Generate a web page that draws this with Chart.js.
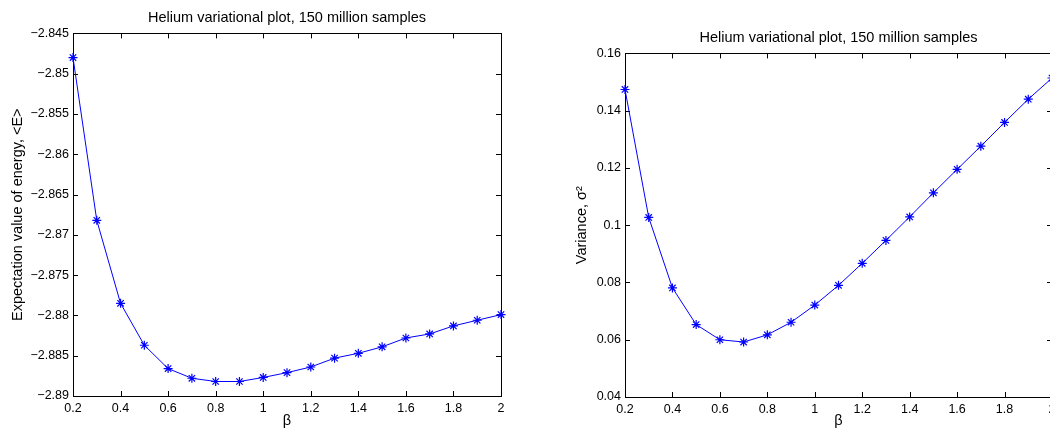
<!DOCTYPE html>
<html>
<head>
<meta charset="utf-8">
<title>Helium variational plot</title>
<script src="https://cdn.jsdelivr.net/npm/chart.js@4.4.1/dist/chart.umd.min.js"></script>
<style>
  html, body { margin: 0; padding: 0; background: #fff; overflow: hidden; }
  #left { position: absolute; left: 0; top: 0; width: 525px; height: 428px; }
  #right { position: absolute; left: 525px; top: 0; width: 550px; height: 428px; }
</style>
</head>
<body>
<div id="left"><canvas id="energyChart"></canvas></div>
<div id="right"><canvas id="varianceChart"></canvas></div>
<script>
// --- DATA --- //
const betaValues = [0.2, 0.3, 0.4, 0.5, 0.6, 0.7, 0.8, 0.9, 1.0, 1.1,
                    1.2, 1.3, 1.4, 1.5, 1.6, 1.7, 1.8, 1.9, 2.0];
const energyValues = [-2.8480, -2.8682, -2.8785, -2.8837, -2.8866, -2.8878, -2.8882, -2.8882, -2.8877, -2.8871,
                      -2.8864, -2.8853, -2.8847, -2.8839, -2.8828, -2.8823, -2.8813, -2.8806, -2.8799];
const varianceValues = [0.1474, 0.1027, 0.0781, 0.0653, 0.0600, 0.0592, 0.0617, 0.0661, 0.0721, 0.0790,
                        0.0867, 0.0947, 0.1029, 0.1113, 0.1195, 0.1276, 0.1359, 0.1440, 0.1514];
const betaTicks = [0.2, 0.4, 0.6, 0.8, 1.0, 1.2, 1.4, 1.6, 1.8, 2.0];
const energyTicks = [-2.89, -2.885, -2.88, -2.875, -2.87, -2.865, -2.86, -2.855, -2.85, -2.845];
const varianceTicks = [0.04, 0.06, 0.08, 0.1, 0.12, 0.14, 0.16];

const titleText = "Helium variational plot, 150 million samples";
const FONT = "'Liberation Sans', Arial, Helvetica, sans-serif";

// format like matlab: trailing zeros dropped, real minus sign
function fmt(v) {
  return String(+Number(v).toFixed(4)).replace("-", "\u2212");
}

// box round the axes with ticks pointing inwards
const matlabBox = {
  id: "matlabBox",
  beforeDatasetsDraw(chart) {
    const { ctx, chartArea: a, scales } = chart;
    const len = 5;
    ctx.save();
    ctx.strokeStyle = "#000";
    ctx.lineWidth = 1;
    ctx.strokeRect(Math.round(a.left) + 0.5, Math.round(a.top) + 0.5,
                   Math.round(a.right - a.left), Math.round(a.bottom - a.top));
    ctx.beginPath();
    scales.x.ticks.forEach(t => {
      const px = Math.round(scales.x.getPixelForValue(t.value)) + 0.5;
      ctx.moveTo(px, a.bottom); ctx.lineTo(px, a.bottom - len);
      ctx.moveTo(px, a.top); ctx.lineTo(px, a.top + len);
    });
    scales.y.ticks.forEach(t => {
      const py = Math.round(scales.y.getPixelForValue(t.value)) + 0.5;
      ctx.moveTo(a.left, py); ctx.lineTo(a.left + len, py);
      ctx.moveTo(a.right, py); ctx.lineTo(a.right - len, py);
    });
    ctx.stroke();
    ctx.restore();
  }
};

function makeChart(canvasId, values, yTicks, yLabel, geo) {
  const points = betaValues.map((b, i) => ({ x: b, y: values[i] }));
  return new Chart(document.getElementById(canvasId), {
    type: "line",
    data: {
      datasets: [{
        data: points,
        borderColor: "#0000ff",
        backgroundColor: "#0000ff",
        borderWidth: 1,
        pointStyle: "star",
        pointRadius: 4.5,
        pointBorderWidth: 1.2,
        pointBorderColor: "#0000ff",
        tension: 0,
        fill: false,
        clip: false
      }]
    },
    options: {
      responsive: true,
      maintainAspectRatio: false,
      animation: false,
      layout: { padding: { top: geo.padTop, right: geo.padRight, left: 0, bottom: 0 } },
      plugins: {
        legend: { display: false },
        tooltip: { enabled: false },
        title: {
          display: true,
          text: titleText,
          fullSize: false,
          color: "#000",
          font: { family: FONT, size: 14.5, weight: "normal" },
          padding: { top: 9, bottom: 7 }
        }
      },
      scales: {
        x: {
          type: "linear",
          min: 0.2,
          max: 2,
          afterBuildTicks: s => { s.ticks = betaTicks.map(v => ({ value: v })); },
          afterFit: s => { s.height = geo.xHeight; },
          grid: { display: false, drawTicks: false },
          border: { display: false },
          ticks: { color: "#000", padding: 5, maxRotation: 0, autoSkip: false,
                   font: { family: FONT, size: 12.5 }, callback: v => fmt(v) },
          title: { display: true, text: "\u03b2", color: "#000",
                   font: { family: FONT, size: 14.5 }, padding: { top: 0, bottom: -2 } }
        },
        y: {
          type: "linear",
          min: yTicks[0],
          max: yTicks[yTicks.length - 1],
          afterBuildTicks: s => { s.ticks = yTicks.map(v => ({ value: v })); },
          afterFit: s => { s.width = geo.yWidth; },
          grid: { display: false, drawTicks: false },
          border: { display: false },
          ticks: { color: "#000", padding: 4, autoSkip: false,
                   font: { family: FONT, size: 12.5 }, callback: v => fmt(v) },
          title: { display: true, text: yLabel, color: "#000",
                   font: { family: FONT, size: 14.5 }, padding: { top: geo.yTitlePad, bottom: 0 } }
        }
      }
    },
    plugins: [matlabBox]
  });
}

makeChart("energyChart", energyValues, energyTicks, "Expectation value of energy, <E>",
          { padTop: 0, padRight: 24, xHeight: 32, yWidth: 73, yTitlePad: 9 });
makeChart("varianceChart", varianceValues, varianceTicks, "Variance, \u03c3\u00b2",
          { padTop: 20, padRight: 23, xHeight: 31, yWidth: 100, yTitlePad: 48 });
</script>
</body>
</html>
